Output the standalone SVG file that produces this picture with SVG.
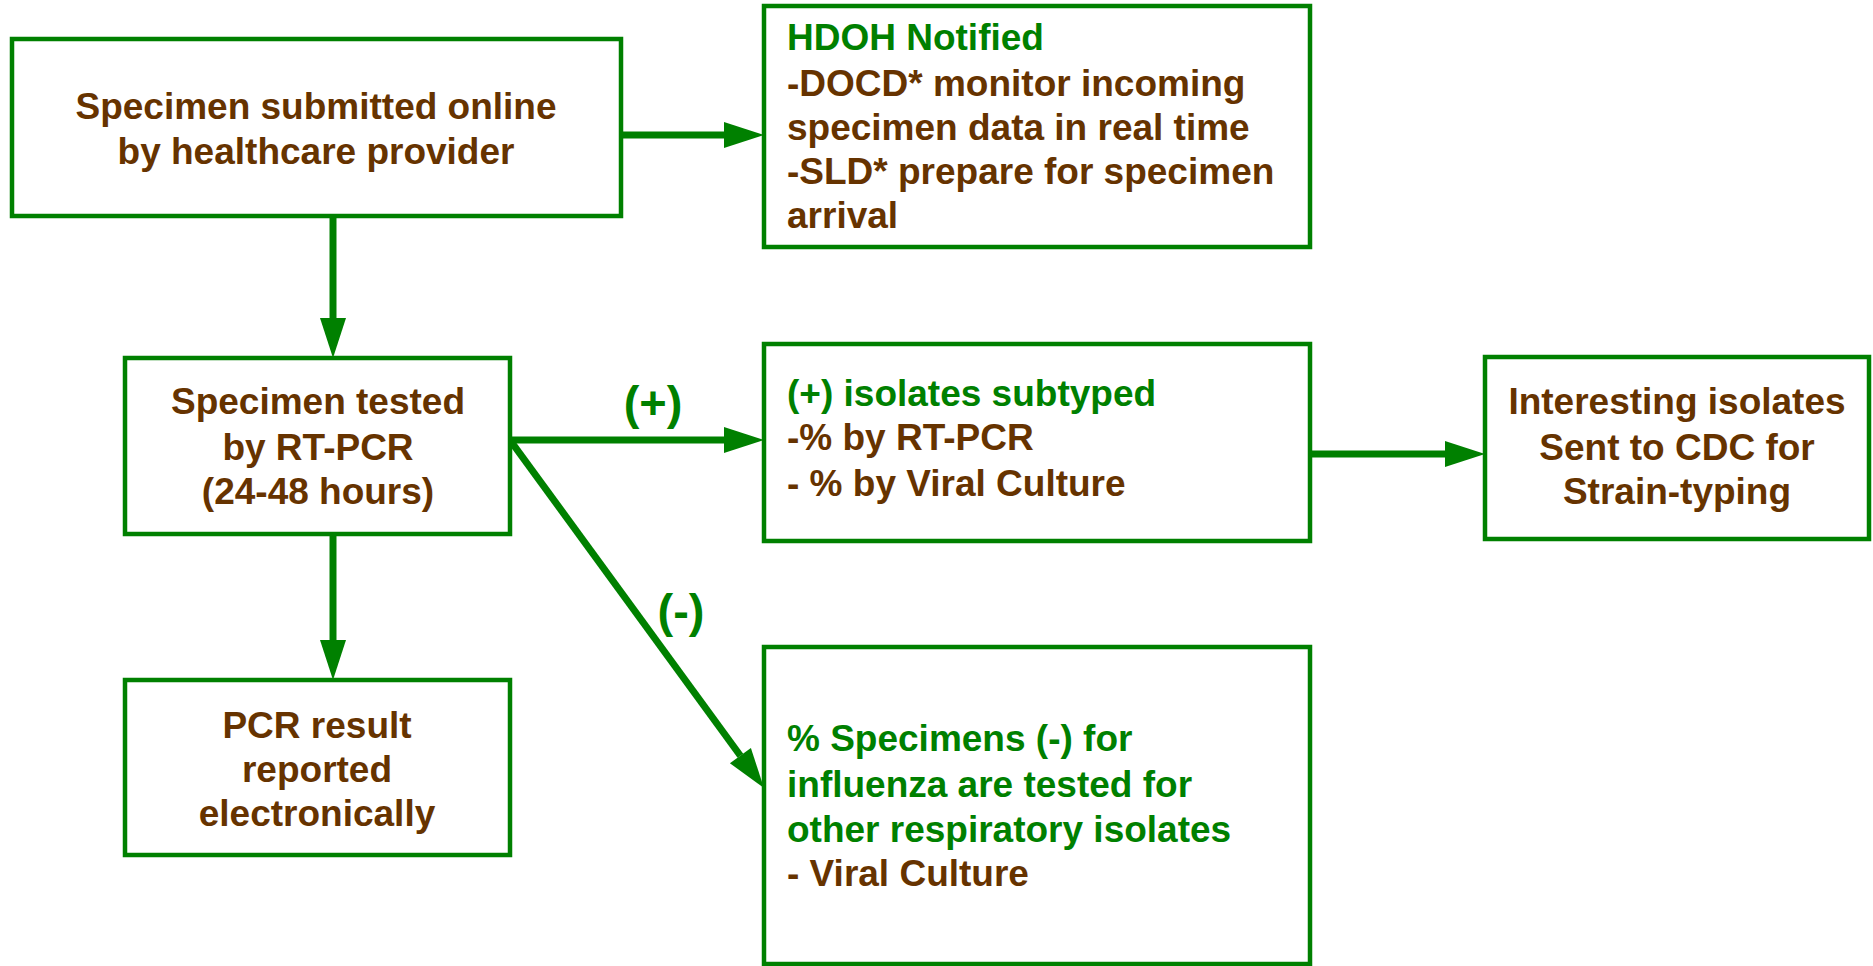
<svg xmlns="http://www.w3.org/2000/svg" width="1873" height="966" viewBox="0 0 1873 966">
<style>
.box{fill:#fff;stroke:#008000;stroke-width:4.5}
.t{font-family:"Liberation Sans",Arial,sans-serif;font-weight:bold;font-size:37px;fill:#663300}
.g{fill:#008000}
.c{text-anchor:middle}
.lbl{font-family:"Liberation Sans",Arial,sans-serif;font-weight:bold;font-size:47px;fill:#008000;text-anchor:middle}
.ln{stroke:#008000;stroke-width:7;fill:none;marker-end:url(#ah)}
</style>
<defs>
<marker id="ah" markerUnits="userSpaceOnUse" markerWidth="40" markerHeight="26" refX="0" refY="13" orient="auto" overflow="visible">
<path d="M0,0 L40,13 L0,26 z" fill="#008000"/>
</marker>
</defs>
<rect width="1873" height="966" fill="#fff"/>
<g id="connectors">
<line class="ln" x1="621" y1="135" x2="724" y2="135"/>
<line class="ln" x1="333" y1="216" x2="333" y2="318"/>
<line class="ln" x1="510" y1="440" x2="724" y2="440"/>
<line class="ln" x1="510" y1="440" x2="740.4" y2="755.7"/>
<line class="ln" x1="333" y1="534" x2="333" y2="640"/>
<line class="ln" x1="1310" y1="454" x2="1445" y2="454"/>
<text class="lbl" x="653" y="419">(+)</text>
<text class="lbl" x="681" y="627">(-)</text>
</g>
<g id="submitted">
<rect class="box" x="12" y="39" width="609" height="177"/>
<text class="t c" x="316" y="119">Specimen submitted online</text>
<text class="t c" x="316" y="164">by healthcare provider</text>
</g>
<g id="hdoh">
<rect class="box" x="764" y="6" width="546" height="241"/>
<text class="t g" x="787" y="50">HDOH Notified</text>
<text class="t" x="787" y="96">-DOCD* monitor incoming</text>
<text class="t" x="787" y="140">specimen data in real time</text>
<text class="t" x="787" y="184">-SLD* prepare for specimen</text>
<text class="t" x="787" y="228">arrival</text>
</g>
<g id="tested">
<rect class="box" x="125" y="358" width="385" height="176"/>
<text class="t c" x="318" y="414">Specimen tested</text>
<text class="t c" x="318" y="460">by RT-PCR</text>
<text class="t c" x="318" y="504">(24-48 hours)</text>
</g>
<g id="pcr">
<rect class="box" x="125" y="680" width="385" height="175"/>
<text class="t c" x="317" y="738">PCR result</text>
<text class="t c" x="317" y="782">reported</text>
<text class="t c" x="317" y="826">electronically</text>
</g>
<g id="positive">
<rect class="box" x="764" y="344" width="546" height="197"/>
<text class="t g" x="787" y="406">(+) isolates subtyped</text>
<text class="t" x="787" y="450">-% by RT-PCR</text>
<text class="t" x="787" y="496">- % by Viral Culture</text>
</g>
<g id="cdc">
<rect class="box" x="1485" y="357" width="384" height="182"/>
<text class="t c" x="1677" y="414">Interesting isolates</text>
<text class="t c" x="1677" y="460">Sent to CDC for</text>
<text class="t c" x="1677" y="504">Strain-typing</text>
</g>
<g id="negative">
<rect class="box" x="764" y="647" width="546" height="317"/>
<text class="t g" x="787" y="751">% Specimens (-) for</text>
<text class="t g" x="787" y="797">influenza are tested for</text>
<text class="t g" x="787" y="842">other respiratory isolates</text>
<text class="t" x="787" y="886">- Viral Culture</text>
</g>
</svg>
